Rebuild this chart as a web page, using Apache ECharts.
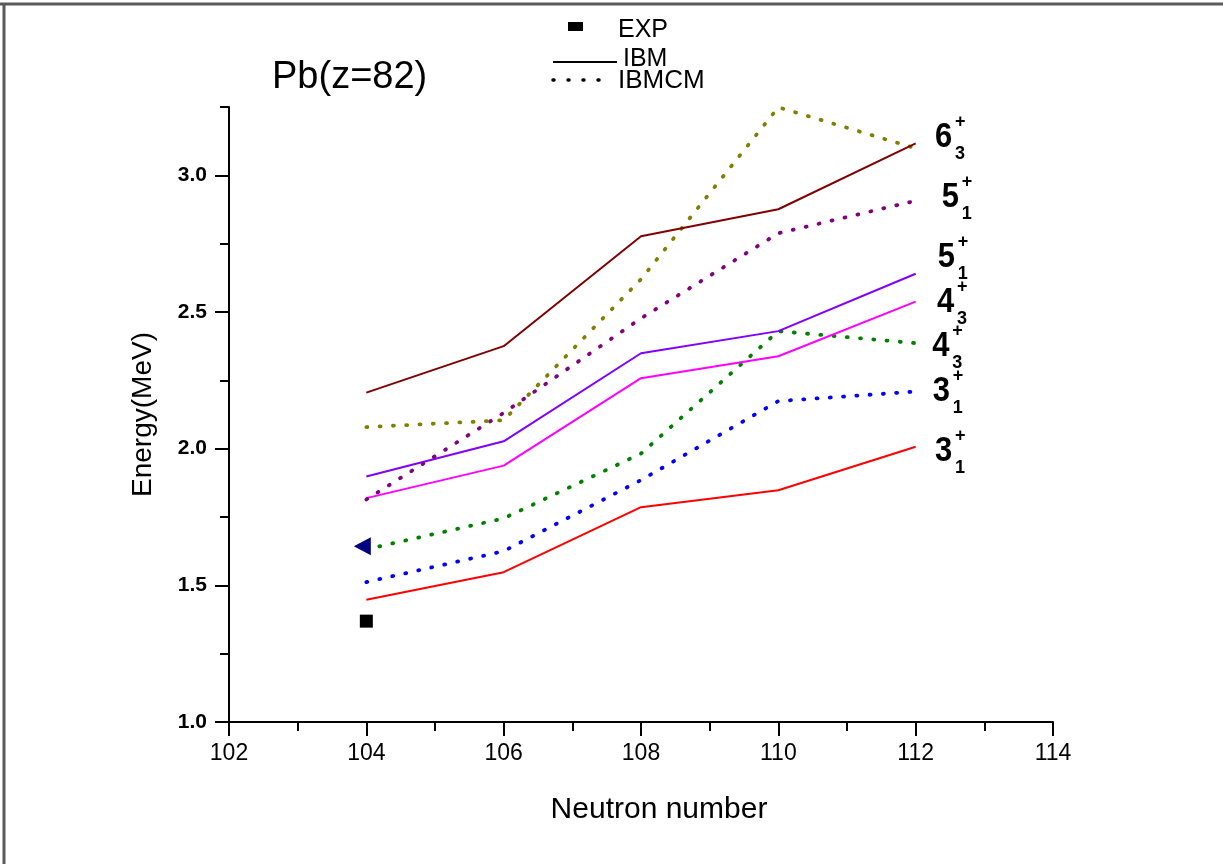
<!DOCTYPE html>
<html><head><meta charset="utf-8">
<script src="https://cdn.jsdelivr.net/npm/echarts@6/dist/echarts.min.js"></script>
<style>html,body{margin:0;padding:0;background:#fff}#c{width:1223px;height:864px}</style>
</head><body><div id="c"></div>
<script>
// ---- data ----
const neutrons = [104, 106, 108, 110, 112];
const ibm_3_1   = [1.447, 1.548, 1.786, 1.848, 2.007];
const ibmcm_3_1 = [1.512, 1.625, 1.885, 2.174, 2.209];
const ibmcm_4_3 = [1.632, 1.745, 1.982, 2.430, 2.386];
const ibm_4_3   = [1.819, 1.938, 2.258, 2.338, 2.538];
const ibm_5_1   = [1.898, 2.027, 2.349, 2.430, 2.640];
const ibmcm_5_1 = [1.814, 2.131, 2.477, 2.788, 2.907];
const ibmcm_6_3 = [2.079, 2.104, 2.620, 3.249, 3.099];
const ibm_6_3   = [2.205, 2.375, 2.777, 2.876, 3.117];
const expNeutron = [104];
const exp_3_1 = [1.369];
const exp_4_3 = [1.643];
const xMajorTicks = [102, 104, 106, 108, 110, 112, 114];
const xMinorTicks = [103, 105, 107, 109, 111, 113];
const yMajorTicks = [1.0, 1.5, 2.0, 2.5, 3.0];
const yMinorTicks = [1.25, 1.75, 2.25, 2.75, 3.25];
const stateJ   = ['6', '5', '5', '4', '4', '3', '3'];
const stateK   = ['3', '1', '1', '3', '3', '1', '1'];
const stateLabelNeutron = [112.28, 112.38, 112.32, 112.31, 112.24, 112.25, 112.28];
const stateLabelEnergy  = [3.139, 2.920, 2.700, 2.536, 2.375, 2.210, 1.991];

const FONT = 'Liberation Sans, Arial, sans-serif';
const pairs = (xs, ys) => xs.map((x, i) => [x, ys[i]]);

const chart = echarts.init(document.getElementById('c'), null, {renderer: 'canvas'});

function solid(name, data, color) {
  return {name, type: 'line', data: pairs(neutrons, data), symbol: 'none',
    lineStyle: {color, width: 2}, itemStyle: {color}, z: 3};
}
function dotted(name, data, color) {
  return {name, type: 'line', data: pairs(neutrons, data), symbol: 'none',
    lineStyle: {color, width: 3.8, type: [1, 12.3], cap: 'round'}, itemStyle: {color}, z: 3};
}

const axisCommon = {
  axisLine: {show: true, lineStyle: {color: '#000', width: 2}},
  splitLine: {show: false}
};

chart.setOption({
  animation: false,
  backgroundColor: '#fff',
  grid: {left: 229, right: 170, top: 107, bottom: 142},
  xAxis: [
    Object.assign({}, axisCommon, {
      type: 'value', min: 102, max: 114, interval: 2,
      axisTick: {show: true, length: 14, lineStyle: {color: '#000', width: 2}, customValues: xMajorTicks},
      axisLabel: {color: '#000', fontSize: 23, fontFamily: FONT, margin: 20, customValues: xMajorTicks},
      name: 'Neutron number', nameLocation: 'middle', nameGap: 73,
      nameTextStyle: {color: '#000', fontSize: 30, fontFamily: FONT, padding: [0, 0, 0, 36]}
    }),
    Object.assign({}, axisCommon, {
      type: 'value', min: 102, max: 114, position: 'bottom',
      axisLine: {show: false},
      axisTick: {show: true, length: 9, lineStyle: {color: '#000', width: 2}, customValues: xMinorTicks},
      axisLabel: {show: false}
    })
  ],
  yAxis: [
    Object.assign({}, axisCommon, {
      type: 'value', min: 1, max: 3.25,
      axisTick: {show: true, length: 14, lineStyle: {color: '#000', width: 2}, customValues: yMajorTicks},
      axisLabel: {color: '#000', fontSize: 21, fontWeight: 'bold', fontFamily: FONT, margin: 22,
        customValues: yMajorTicks, formatter: v => v.toFixed(1)},
      name: 'Energy(MeV)', nameLocation: 'middle', nameGap: 72,
      nameTextStyle: {color: '#000', fontSize: 28, fontFamily: FONT}
    }),
    Object.assign({}, axisCommon, {
      type: 'value', min: 1, max: 3.25, position: 'left',
      axisLine: {show: false},
      axisTick: {show: true, length: 9, lineStyle: {color: '#000', width: 2}, customValues: yMinorTicks},
      axisLabel: {show: false}
    })
  ],
  series: [
    solid('3_1 IBM', ibm_3_1, '#ff0000'),
    dotted('3_1 IBMCM', ibmcm_3_1, '#0000ff'),
    dotted('4_3 IBMCM', ibmcm_4_3, '#008000'),
    solid('4_3 IBM', ibm_4_3, '#ff00ff'),
    solid('5_1 IBM', ibm_5_1, '#8000ff'),
    dotted('5_1 IBMCM', ibmcm_5_1, '#800080'),
    dotted('6_3 IBMCM', ibmcm_6_3, '#808000'),
    solid('6_3 IBM', ibm_6_3, '#800000'),
    {name: 'EXP 3_1', type: 'scatter', data: pairs(expNeutron, exp_3_1), symbol: 'rect',
      symbolSize: 13, itemStyle: {color: '#000', opacity: 1}, z: 5},
    {name: 'EXP 4_3', type: 'scatter', data: pairs(expNeutron, exp_4_3), symbol: 'triangle',
      symbolRotate: 90, symbolSize: [18, 17], symbolOffset: [-4, 0],
      itemStyle: {color: '#000080', opacity: 1}, z: 5}
  ]
});

// ---- annotations ----
const g = [];
// image frame (top and left edges)
g.push({type: 'line', shape: {x1: 0, y1: 4, x2: 1223, y2: 4}, style: {stroke: '#5a5a5a', lineWidth: 3}});
g.push({type: 'line', shape: {x1: 4, y1: 4, x2: 4, y2: 864}, style: {stroke: '#5a5a5a', lineWidth: 3}});
// title
g.push({type: 'text', left: 272, top: 59, style: {text: 'Pb(z=82)', font: '38px ' + FONT, fill: '#000'}});
// legend
g.push({type: 'rect', shape: {x: 568, y: 22, width: 15, height: 9}, style: {fill: '#000'}});
g.push({type: 'text', x: 618, y: 30, style: {text: 'EXP', font: '25px ' + FONT, fill: '#000', verticalAlign: 'middle'}});
g.push({type: 'line', shape: {x1: 553, y1: 62, x2: 617, y2: 62}, style: {stroke: '#000', lineWidth: 2}});
g.push({type: 'text', x: 623, y: 59, style: {text: 'IBM', font: '25px ' + FONT, fill: '#000', verticalAlign: 'middle'}});
g.push({type: 'line', shape: {x1: 553, y1: 80, x2: 599, y2: 80},
  style: {stroke: '#000', lineWidth: 3.5, lineDash: [1, 14], lineCap: 'round'}});
g.push({type: 'text', x: 618, y: 81, style: {text: 'IBMCM', font: '26px ' + FONT, fill: '#000', verticalAlign: 'middle'}});
// state labels
for (let i = 0; i < stateJ.length; i++) {
  const p = chart.convertToPixel({xAxisIndex: 0, yAxisIndex: 0}, [stateLabelNeutron[i], stateLabelEnergy[i]]);
  g.push({type: 'text', x: p[0], y: p[1], scaleY: 1.12, originY: 0,
    style: {text: stateJ[i], font: 'bold 31px ' + FONT, fill: '#000', verticalAlign: 'middle'}});
  g.push({type: 'text', x: p[0] + 20, y: p[1] - 15, style: {text: '+', font: 'bold 18px ' + FONT, fill: '#000', verticalAlign: 'middle'}});
  g.push({type: 'text', x: p[0] + 20, y: p[1] + 17, style: {text: stateK[i], font: 'bold 18px ' + FONT, fill: '#000', verticalAlign: 'middle'}});
}
chart.setOption({graphic: g});
</script>
</body></html>
